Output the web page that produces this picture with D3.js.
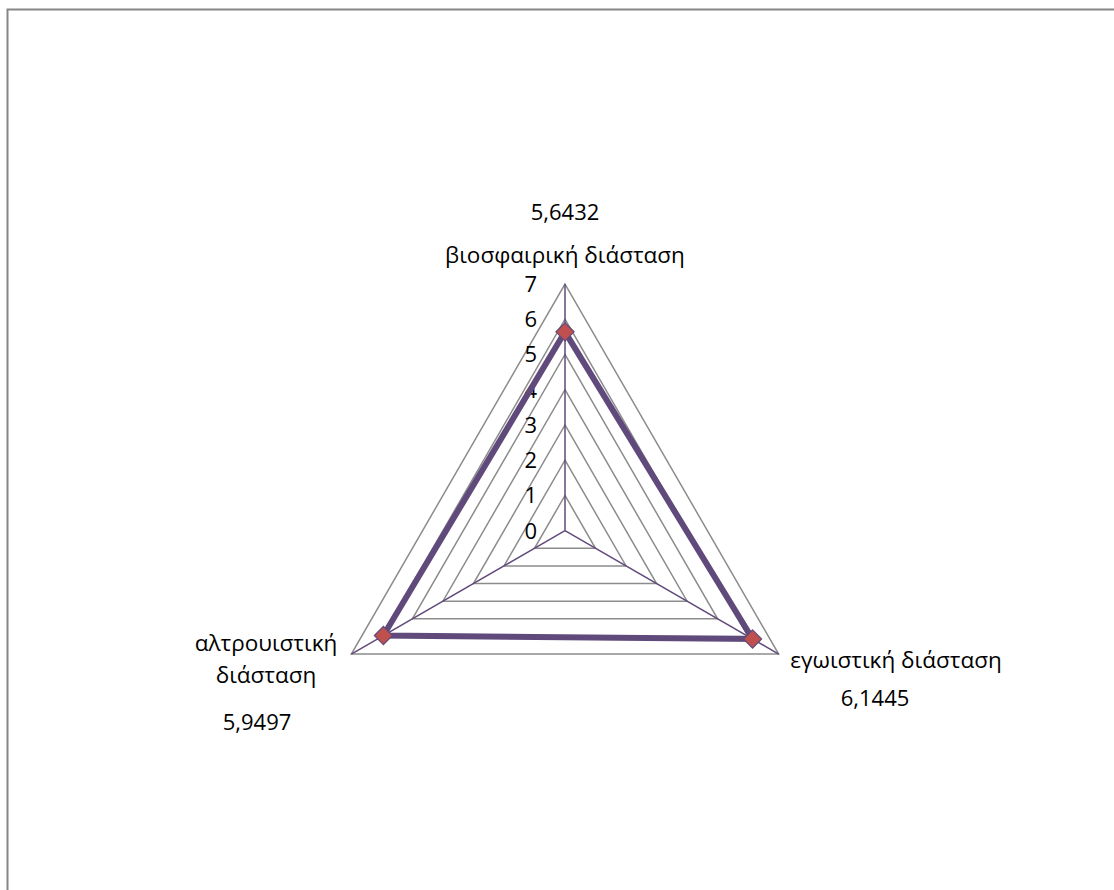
<!DOCTYPE html>
<html>
<head>
<meta charset="utf-8">
<script src="https://cdn.jsdelivr.net/npm/d3@7"></script>
<style>
  body { margin: 0; background: #fff; }
  text { font-family: "Open Sans", "Noto Sans", sans-serif; fill: #000; }
</style>
</head>
<body>
<div class="chart"></div>
<script>
// chart data
var categories = [["βιοσφαιρική διάσταση"], ["εγωιστική διάσταση"], ["αλτρουιστική", "διάσταση"]];
var values = [5.6432, 6.1445, 5.9497];
var valueLabels = ["5,6432", "6,1445", "5,9497"];
var ticks = [0, 1, 2, 3, 4, 5, 6, 7];

var svgWidth = 1114, svgHeight = 890;
var cx = 565, cy = 530.7;

var svg = d3.select(".chart").append("svg")
  .attr("width", svgWidth)
  .attr("height", svgHeight);

// outer chart border
svg.append("rect")
  .attr("x", 7.5).attr("y", 9.5)
  .attr("width", 1130).attr("height", 900)
  .attr("fill", "none").attr("stroke", "#868686").attr("stroke-width", 2);

var r = d3.scaleLinear().domain([0, 7]).range([0, 246.7]);

// angle of each axis, top first then clockwise
var angle = function(i) { return -Math.PI / 2 + i * 2 * Math.PI / categories.length; };
var pt = function(i, v) { return [cx + r(v) * Math.cos(angle(i)), cy + r(v) * Math.sin(angle(i))]; };

var g = svg.append("g");

// rings
g.selectAll("polygon.ring")
  .data(ticks.slice(1))
  .enter().append("polygon")
  .attr("class", "ring")
  .attr("points", function(t) { return categories.map(function(c, i) { return pt(i, t).join(","); }).join(" "); })
  .attr("fill", "none").attr("stroke", "#8c8c8c").attr("stroke-width", 1.5);

// spokes
g.selectAll("line.spoke")
  .data(categories)
  .enter().append("line")
  .attr("x1", cx).attr("y1", cy)
  .attr("x2", function(c, i) { return pt(i, 7)[0]; })
  .attr("y2", function(c, i) { return pt(i, 7)[1]; })
  .attr("stroke", "#604a7b").attr("stroke-width", 1.5);

// tick labels on the top axis
g.selectAll("text.tick")
  .data(ticks)
  .enter().append("text")
  .attr("x", cx - 28)
  .attr("y", function(t) { return cy - r(t); })
  .attr("dy", "0.36em")
  .attr("text-anchor", "end")
  .style("font-size", "22px")
  .text(function(t) { return t; });

// series line
var line = d3.line().curve(d3.curveLinearClosed);
g.append("path")
  .attr("d", line(values.map(function(v, i) { return pt(i, v); })))
  .attr("fill", "none").attr("stroke", "#604a7b").attr("stroke-width", 6)
  .attr("stroke-linejoin", "miter");

// markers
g.selectAll("path.marker")
  .data(values)
  .enter().append("path")
  .attr("d", d3.symbol(d3.symbolDiamond2, 210))
  .attr("transform", function(v, i) { var p = pt(i, v); return "translate(" + p[0] + "," + p[1] + ")"; })
  .attr("fill", "#c0504d").attr("stroke", "#604a7b").attr("stroke-width", 1.2);

// category and value labels
var labelPos = [
  { x: 565, y: 255, vx: 565, vy: 212 },
  { x: 896, y: 660, vx: 875, vy: 698 },
  { x: 266, y: 643, vx: 257, vy: 722 }
];

categories.forEach(function(c, i) {
  var lp = labelPos[i];
  var t = g.append("text")
    .attr("text-anchor", "middle")
    .style("font-size", "22.5px");
  c.forEach(function(s, j) {
    t.append("tspan").attr("x", lp.x).attr("y", lp.y + j * 32).attr("dy", "0.36em").text(s);
  });
  g.append("text")
    .attr("x", lp.vx).attr("y", lp.vy).attr("dy", "0.36em")
    .attr("text-anchor", "middle")
    .style("font-size", "22px")
    .text(valueLabels[i]);
});
</script>
</body>
</html>
